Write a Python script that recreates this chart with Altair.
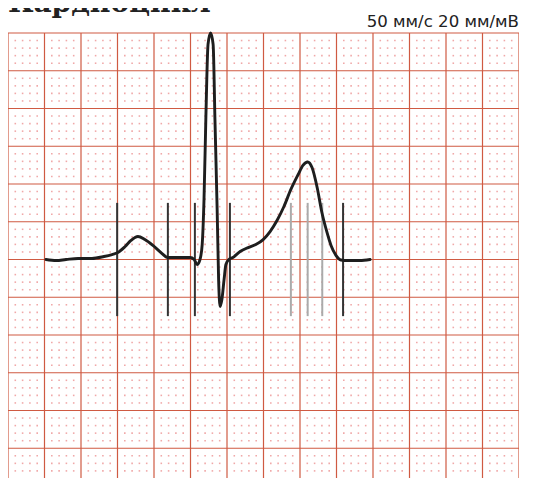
import altair as alt
import pandas as pd

title_text = "Кардиоцикл"
scale_text = "50 мм/с 20 мм/мВ"

# ECG trace: time (s), amplitude (mV)
ecg_t = [0.104, 0.132, 0.159, 0.192, 0.230, 0.263, 0.285, 0.301, 0.321, 0.337,
         0.356, 0.375, 0.397, 0.419, 0.438, 0.466, 0.499, 0.510, 0.518, 0.526,
         0.532, 0.537, 0.542, 0.548, 0.555, 0.562, 0.567, 0.573, 0.577, 0.581,
         0.586, 0.592, 0.597, 0.605, 0.616, 0.636, 0.658, 0.679, 0.699, 0.718,
         0.737, 0.756, 0.775, 0.795, 0.808, 0.821, 0.833, 0.847, 0.860, 0.874,
         0.885, 0.899, 0.912, 0.932, 0.964, 0.992]
ecg_mv = [0.000, -0.007, 0.000, 0.007, 0.007, 0.020, 0.033, 0.046, 0.086, 0.126,
          0.152, 0.132, 0.093, 0.046, 0.013, 0.013, 0.013, 0.000, -0.033, 0.000,
          0.099, 0.397, 0.927, 1.424, 1.500, 1.424, 0.927, 0.331, -0.132, -0.311,
          -0.265, -0.132, -0.033, 0.000, 0.013, 0.053, 0.079, 0.099, 0.132, 0.185,
          0.258, 0.351, 0.464, 0.563, 0.623, 0.646, 0.609, 0.477, 0.311, 0.179,
          0.093, 0.026, -0.003, -0.007, -0.007, 0.000]

black_marks = [0.299, 0.438, 0.512, 0.608, 0.918]
gray_marks = [0.775, 0.821, 0.861]
marker_half = 0.375

x_major = [round(i * 0.1, 2) for i in range(15)]
y_major = [round(1.5 - i * 0.25, 2) for i in range(12)]
x_minor = [round(i * 0.02, 3) for i in range(71) if i % 5]
y_minor = [round(1.5 - i * 0.05, 3) for i in range(59) if i % 5]

grid_red = "#cf5a42"
dot_pink = "#f0a8a8"

W, H = 511, 445
y_bottom = 1.5 - H / 151.0

xs = alt.Scale(domain=[0, 1.4], nice=False, zero=False)
ys = alt.Scale(domain=[y_bottom, 1.5], nice=False, zero=False)

dots = pd.DataFrame([(x, y) for x in x_minor for y in y_minor], columns=["t", "mv"])
ecg = pd.DataFrame({"t": ecg_t, "mv": ecg_mv})
bm = pd.DataFrame({"t": black_marks, "lo": -marker_half, "hi": marker_half})
gm = pd.DataFrame({"t": gray_marks, "lo": -marker_half, "hi": marker_half})

dot_layer = alt.Chart(dots).mark_square(size=2.5, color=dot_pink, opacity=1).encode(
    x=alt.X("t:Q", scale=xs, axis=None),
    y=alt.Y("mv:Q", scale=ys, axis=None),
)

vgrid = alt.Chart(pd.DataFrame({"t": x_major})).mark_rule(
    color=grid_red, strokeWidth=1.2).encode(x=alt.X("t:Q", scale=xs, axis=None))
hgrid = alt.Chart(pd.DataFrame({"mv": y_major})).mark_rule(
    color=grid_red, strokeWidth=1.2).encode(y=alt.Y("mv:Q", scale=ys, axis=None))

black_layer = alt.Chart(bm).mark_rule(color="#333333", strokeWidth=2).encode(
    x=alt.X("t:Q", scale=xs, axis=None),
    y=alt.Y("lo:Q", scale=ys, axis=None),
    y2="hi:Q",
)
gray_layer = alt.Chart(gm).mark_rule(color="#aaaaaa", strokeWidth=2).encode(
    x=alt.X("t:Q", scale=xs, axis=None),
    y=alt.Y("lo:Q", scale=ys, axis=None),
    y2="hi:Q",
)

line_layer = alt.Chart(ecg).mark_line(color="#1e1e1e", strokeWidth=2.9,
                                      interpolate="monotone", strokeJoin="round",
                                      strokeCap="round").encode(
    x=alt.X("t:Q", scale=xs, axis=None),
    y=alt.Y("mv:Q", scale=ys, axis=None),
    order="t:Q",
)

title_layer = alt.Chart(pd.DataFrame({"label": [title_text]})).mark_text(
    align="left", baseline="alphabetic", font="DejaVu Serif", fontWeight="bold",
    fontSize=28, color="#222222").encode(
    x=alt.value(0), y=alt.value(-21), text="label:N")

scale_layer = alt.Chart(pd.DataFrame({"label": [scale_text]})).mark_text(
    align="right", baseline="alphabetic", font="DejaVu Sans",
    fontSize=16.6, color="#222222").encode(
    x=alt.value(W), y=alt.value(-6), text="label:N")

chart = alt.layer(dot_layer, vgrid, hgrid, black_layer, gray_layer, line_layer,
                  title_layer, scale_layer).properties(
    width=W, height=H,
    padding={"left": 0, "top": 25, "right": 0, "bottom": 0},
    autosize=alt.AutoSizeParams(type="none"),
).configure_view(stroke=None)

chart.save("out.html", embed_options={"renderer": "svg", "actions": False})
